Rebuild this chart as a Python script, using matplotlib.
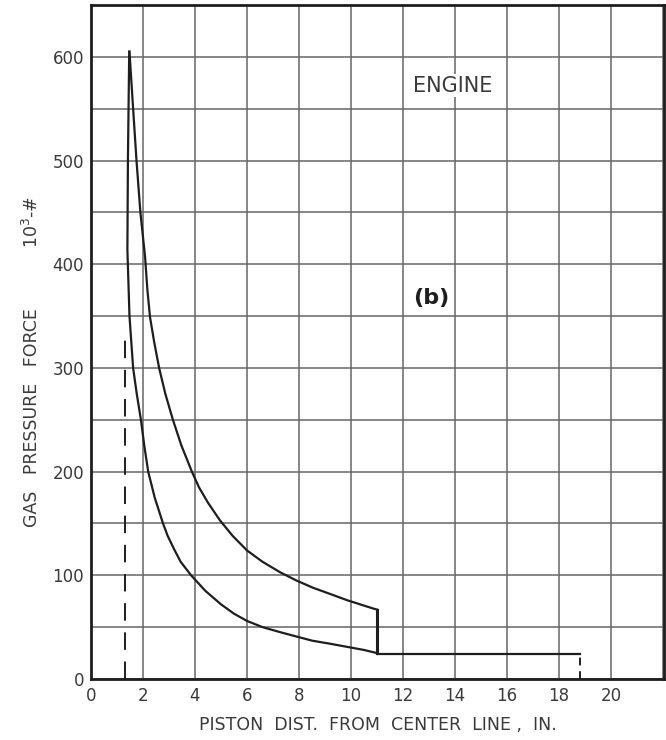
import matplotlib.pyplot as plt
import numpy as np

# expansion stroke (upper curve), in. vs 10^3 lb
expansion_x = [1.48, 1.62, 1.75, 1.9, 2.08, 2.17, 2.27, 2.43, 2.62, 2.86, 3.15, 3.48, 3.88,
               4.15, 4.5, 4.96, 5.45, 6.0, 6.6, 7.27, 7.9, 8.54, 9.2, 9.85, 10.35, 10.85, 11.0]
expansion_y = [605, 550, 500, 450, 407, 375, 349, 325, 300, 275, 250, 225, 200,
               185, 170, 153, 138, 124, 113, 103, 95, 88, 82, 76, 72, 68, 67]

# blowdown at end of stroke
blowdown_x = [11.0, 11.0]
blowdown_y = [67, 25]

# compression stroke (lower curve), back to the peak
compression_x = [11.0, 10.5, 9.85, 9.2, 8.5, 7.9, 7.3, 6.6, 6.0, 5.5, 5.0, 4.4, 3.85,
                 3.45, 3.2, 2.95, 2.77, 2.45, 2.2, 2.05, 1.92, 1.76, 1.62, 1.48, 1.40, 1.42, 1.47]
compression_y = [25, 28, 31, 34, 37, 41, 45, 50, 56, 63, 72, 85, 100,
                 113, 125, 138, 150, 175, 200, 225, 250, 275, 300, 350, 414, 500, 605]

# exhaust line out to bottom dead centre
exhaust_x = [11.0, 18.8]
exhaust_y = [24, 24]

tdc_x = 1.3
tdc_top = 330
bdc_x = 18.8
bdc_top = 24

x_ticks = [0, 2, 4, 6, 8, 10, 12, 14, 16, 18, 20]
y_ticks = [0, 100, 200, 300, 400, 500, 600]

ink = '#1e1e1e'
grid_col = '#666666'
txt = '#3a3a3a'

fig = plt.figure(figsize=(6.66, 7.4), dpi=100)
ax = fig.add_axes([91 / 666, 61 / 740, 573 / 666, 674 / 740])

ax.set_xlim(0, 22.04)
ax.set_ylim(0, 650)

ax.set_xticks(x_ticks)
ax.set_xticks([22], minor=True)
ax.set_yticks(y_ticks)
ax.set_yticks(np.arange(50, 651, 100), minor=True)
ax.grid(which='both', color=grid_col, linewidth=1.1)
ax.set_axisbelow(True)
ax.tick_params(which='both', length=0)
ax.tick_params(axis='x', pad=6, labelsize=12, labelcolor=txt)
ax.tick_params(axis='y', pad=5, labelsize=12, labelcolor=txt)

for s in ax.spines.values():
    s.set_color(ink)
    s.set_linewidth(2.0)

ax.plot(expansion_x, expansion_y, color=ink, lw=1.6)
ax.plot(blowdown_x, blowdown_y, color=ink, lw=2.2)
ax.plot(compression_x, compression_y, color=ink, lw=1.6)
ax.plot(exhaust_x, exhaust_y, color=ink, lw=1.6)
ax.plot([tdc_x, tdc_x], [0, tdc_top], color=ink, lw=1.4, dashes=(9, 6))
ax.plot([bdc_x, bdc_x], [0, bdc_top], color=ink, lw=1.4, dashes=(4, 3))

ax.text(13.9, 572, 'ENGINE', fontsize=15, color=txt, ha='center', va='center',
        bbox=dict(facecolor='white', edgecolor='none', pad=1))
ax.text(13.1, 367, '(b)', fontsize=16, fontweight='bold', color=ink, ha='center', va='center',
        bbox=dict(facecolor='white', edgecolor='none', pad=0.5))

ax.set_xlabel('PISTON  DIST.  FROM  CENTER  LINE ,  IN.', fontsize=12.5, color=txt, labelpad=8)
fig.text(32 / 666, 1 - 418 / 740, 'GAS   PRESSURE   FORCE', rotation=90, fontsize=12.5,
         color=txt, ha='center', va='center')
fig.text(32 / 666, 1 - 222 / 740, r'10$^3$-#', rotation=90, fontsize=12.5,
         color=txt, ha='center', va='center')

plt.savefig('out.png', dpi=100)
